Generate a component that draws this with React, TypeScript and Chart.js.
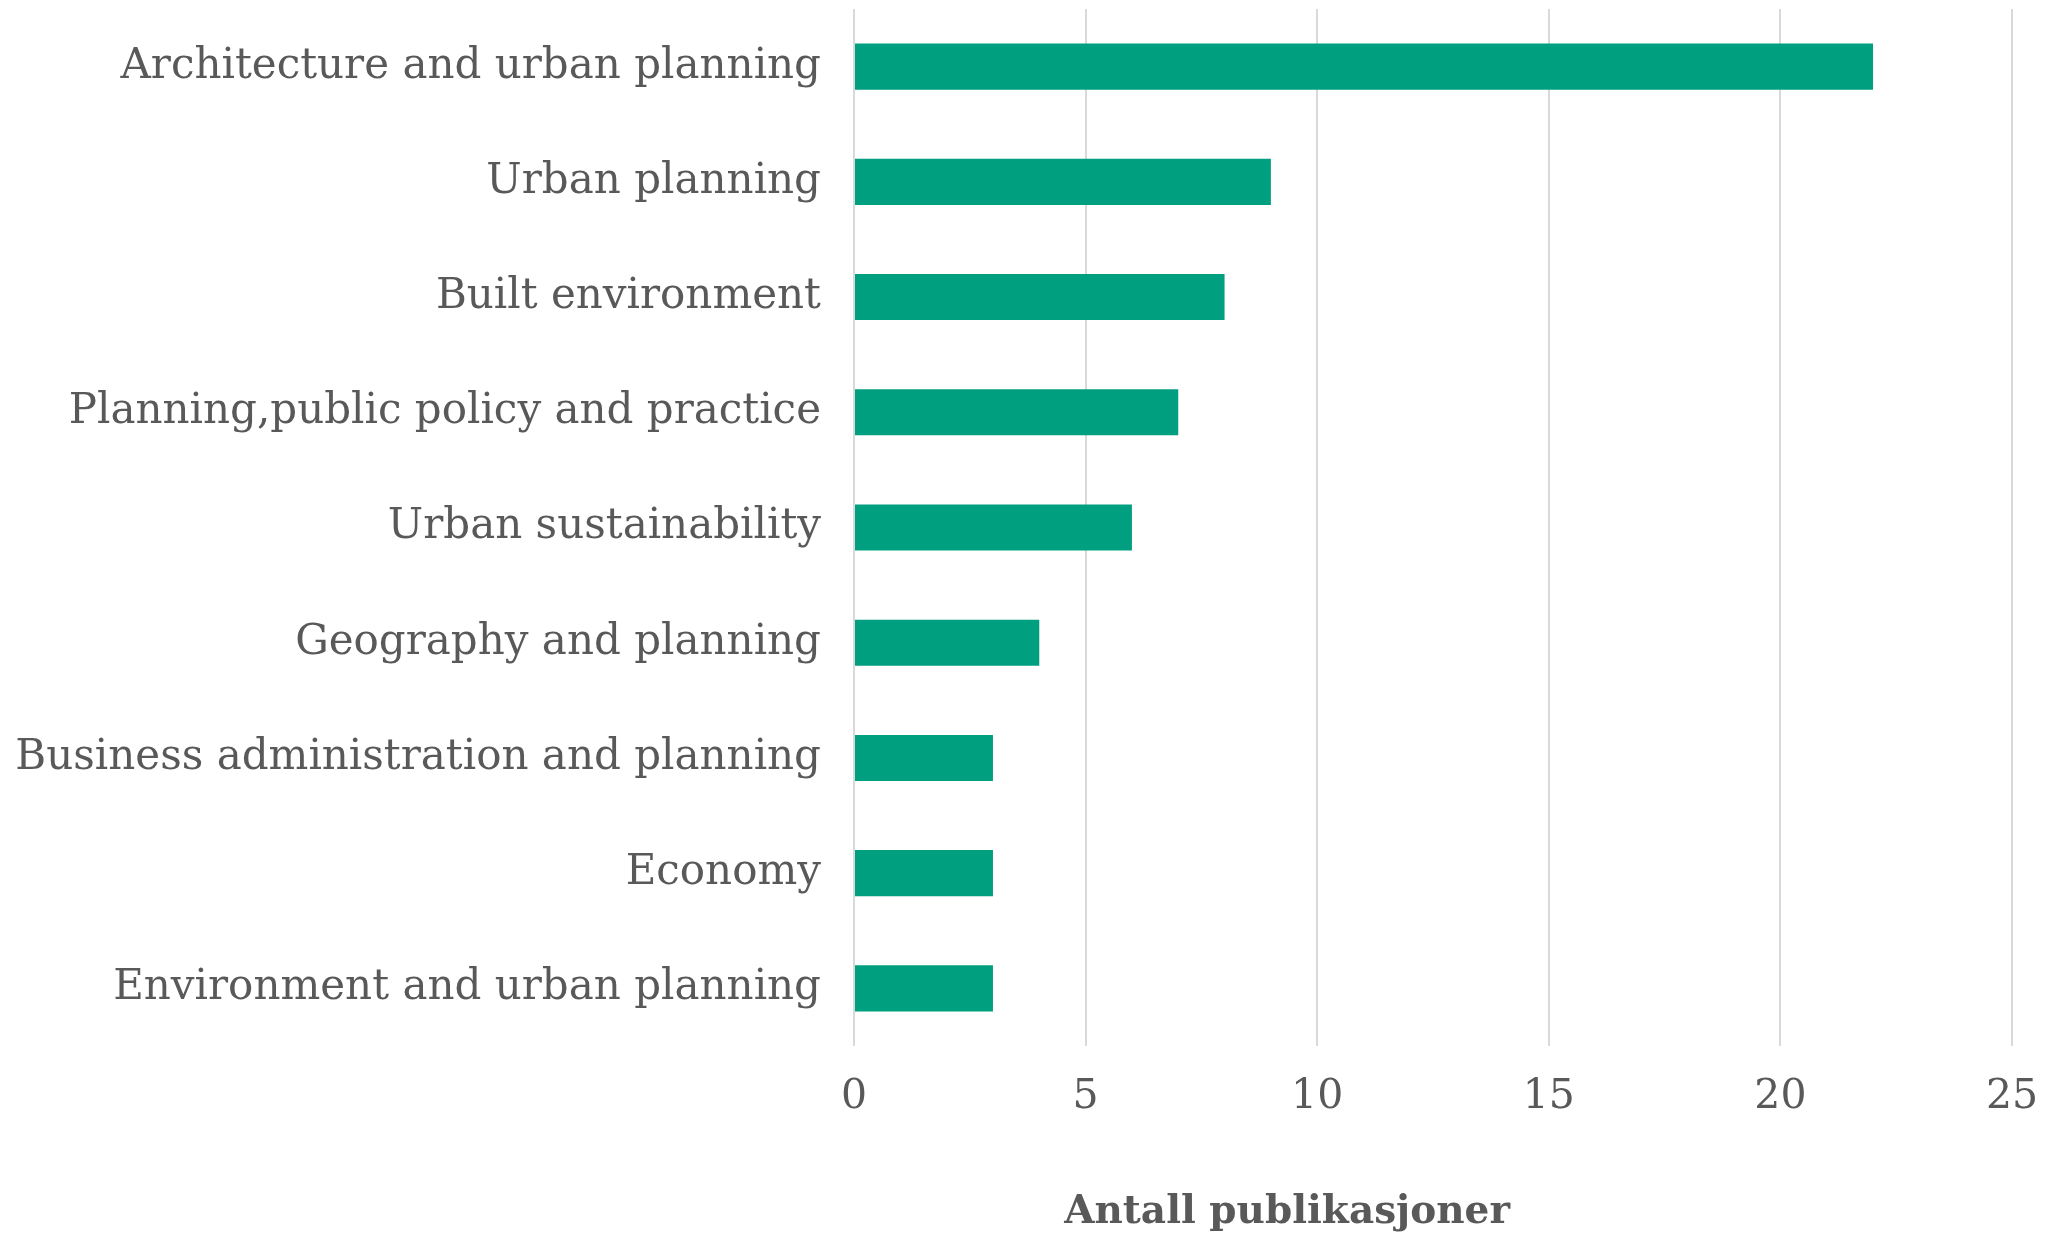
import React, { useEffect, useRef } from "react";
import { Chart, registerables } from "chart.js";

Chart.register(...registerables);

const categories = [
  "Architecture and urban planning",
  "Urban planning",
  "Built environment",
  "Planning,public policy and practice",
  "Urban sustainability",
  "Geography and planning",
  "Business administration and planning",
  "Economy",
  "Environment and urban planning",
];
const values = [22, 9, 8, 7, 6, 4, 3, 3, 3];
const axisTitle = "Antall publikasjoner";

const FONT = "'DejaVu Serif', serif";
const TEXT = "#595959";

export default function App() {
  const ref = useRef<HTMLCanvasElement | null>(null);
  useEffect(() => {
    if (!ref.current) return;
    const titlePlugin = {
      id: "axisTitleCustom",
      afterDraw(chart: any) {
        const { ctx, chartArea } = chart;
        ctx.save();
        ctx.font = `bold 39px ${FONT}`;
        ctx.fillStyle = TEXT;
        ctx.textAlign = "center";
        ctx.textBaseline = "alphabetic";
        const x = chartArea.left + (chartArea.right - chartArea.left) * 0.374;
        ctx.fillText(axisTitle, x, chartArea.bottom + 177);
        ctx.restore();
      },
    };
    const chart = new Chart(ref.current, {
      type: "bar",
      data: {
        labels: categories,
        datasets: [
          {
            data: values,
            backgroundColor: "#009f7f",
            categoryPercentage: 1,
            barPercentage: 0.4,
          },
        ],
      },
      options: {
        indexAxis: "y",
        animation: false,
        responsive: false,
        devicePixelRatio: 1,
        layout: { padding: { top: 9, right: 57, left: 0, bottom: 0 } },
        plugins: { legend: { display: false }, tooltip: { enabled: false } },
        scales: {
          x: {
            min: 0,
            max: 25,
            ticks: {
              stepSize: 5,
              color: TEXT,
              font: { family: FONT, size: 41 },
              padding: 27,
            },
            grid: { color: "#d9d9d9", lineWidth: 2, drawTicks: false },
            border: { display: false },
            afterFit(scale: any) {
              scale.height = 188;
              scale.paddingLeft = 0;
              scale.paddingRight = 0;
            },
          },
          y: {
            ticks: {
              color: TEXT,
              font: { family: FONT, size: 42 },
              padding: 33,
            },
            grid: { display: false, drawTicks: false },
            border: { display: false },
            afterFit(scale: any) {
              scale.width = 854;
              scale.paddingTop = 0;
              scale.paddingBottom = 0;
            },
          },
        },
      },
      plugins: [titlePlugin],
    });
    return () => chart.destroy();
  }, []);
  return (
    <div style={{ position: "fixed", left: 0, top: 0, width: 2069, height: 1234, background: "#fff" }}>
      <canvas ref={ref} width={2069} height={1234} style={{ width: 2069, height: 1234 }} />
    </div>
  );
}
